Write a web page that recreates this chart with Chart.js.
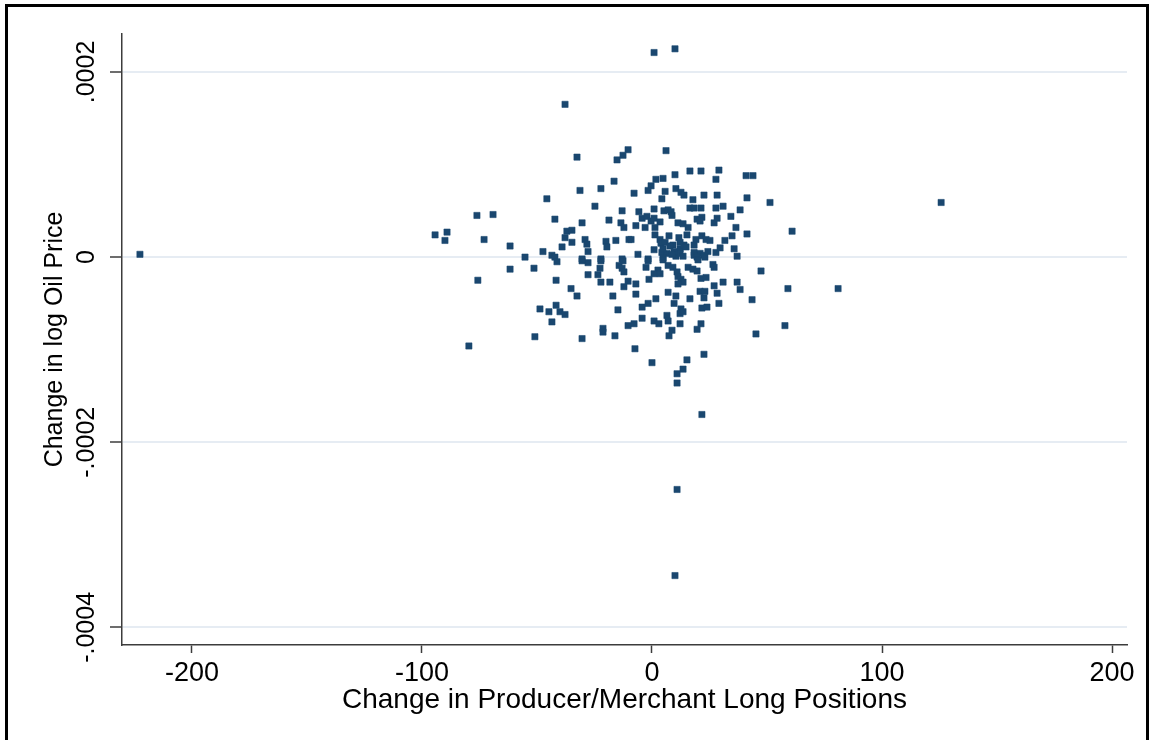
<!DOCTYPE html>
<html>
<head>
<meta charset="utf-8">
<script src="https://cdn.jsdelivr.net/npm/chart.js@4/dist/chart.umd.min.js"></script>
<style>
  html, body { margin: 0; padding: 0; background: #fff; }
  #wrap { position: relative; width: 1151px; height: 740px; overflow: hidden; }
  #frame { position: absolute; left: 5px; top: 4px; width: 1138px; height: 760px;
           border: 3px solid #000; pointer-events: none; }
</style>
</head>
<body>
<div id="wrap">
  <canvas id="scatterChart" width="1151" height="740"></canvas>
  <div id="frame"></div>
</div>
<script>
// weekly changes
const longChange = [
  -222.6, 0.9, 10.0, -37.8, 125.7, 60.9, 80.9, -79.6, 10.0, 10.9, 21.7,
  // left side
  -32.6, -31.3, -45.7, -24.8, -76.1, -69.1, -42.2, -30.4, -94.3, -89.1,
  -90.0, -73.0, -61.7, -37.0, -34.8, -37.8, -34.8, -29.1, -28.3, -27.8,
  -39.1, -47.4, -43.5, -42.2, -55.2, -41.3, -30.4, -27.8, -61.7, -51.3,
  -75.7, -41.7, -27.8, -23.5, -35.2, -32.6, -41.7, -48.7, -44.8, -40.0,
  -37.8, -43.5, -50.9, -30.4, -30.4,
  // centre, above zero
  -15.2, -16.5, -22.2, 1.7, 4.8, -0.4, -1.7, 5.7, -7.8, 4.3,
  -13.0, -5.7, -4.3, -2.2, 0.9, 5.2, 7.0, -18.7, -13.5, -12.2,
  -0.4, 0.9, 3.5, 1.3, -3.0, -7.0, -20.0, -19.6, -15.7, -10.0,
  1.3, 3.5, 3.9, 5.7, -6.1, 0.9, 4.3, 6.5, -22.2, -13.0,
  -1.7, 4.8, -10.4, -12.6, 6.1, 10.0, 16.5, 21.3, 29.1, 27.8,
  40.9, 43.9, 10.4, 12.6, 13.9, 22.6, 28.3, 41.3, 51.3, 17.8,
  30.9, 16.5, 18.3, 21.3, 27.8, 38.3, 8.3, 8.7, 11.3, 13.5,
  15.7, 19.6, 21.7, 20.9, 27.0, 28.3, 34.3, 36.5, 41.3, -9.1,
  7.4, 11.7, 12.2, 15.2, 19.1, 21.7, 23.5, 25.2, 31.7, 34.8,
  9.1, 12.2, 13.9, 18.3, 18.3, 20.9, 22.6, 24.3, 27.8, 29.6,
  35.7, 37.0, 10.4, 12.2, 18.3, 4.8, 7.8, 14.8, 9.6, 8.7,
  13.5, 23.0,
  // centre, below zero
  -22.2, -22.6, -14.3, -13.0, -12.2, -12.6, -1.7, -2.6, 2.6, 0.9,
  3.5, -1.3, 4.8, 7.0, -18.3, -22.2, -10.4, -12.2, -7.0, -17.0,
  -7.0, 1.7, -1.7, -4.3, 7.0, -14.8, -4.3, 0.9, 3.0, -10.4,
  -7.8, 6.5, 7.0, -21.3, -21.3, -16.1, -7.4, 7.4, 19.6, 20.0,
  9.1, 15.7, 17.8, 19.6, 26.5, 27.0, 47.4, 10.9, 11.3, 12.6,
  13.5, 11.3, 21.3, 23.5, 27.0, 30.9, 37.0, 38.3, 10.4, 20.9,
  23.0, 28.3, 16.5, 22.6, 43.5, 9.6, 29.1, 21.7, 23.9, 12.6,
  12.2, 13.5, 12.2, 21.3, 19.6, 8.7, 45.2, 22.6, 0, 15.2,
  13.5, 10.9, 10.9, 57.8, 59.1
];

const logPriceChange = [
  0.03e-4, 2.21e-4, 2.25e-4, 1.65e-4, 0.59e-4, 0.28e-4, -0.34e-4, -0.96e-4, -3.44e-4, -2.51e-4, -1.70e-4,
  // left side
  1.08e-4, 0.72e-4, 0.63e-4, 0.55e-4, 0.45e-4, 0.46e-4, 0.41e-4, 0.37e-4, 0.24e-4, 0.27e-4,
  0.18e-4, 0.19e-4, 0.12e-4, 0.28e-4, 0.29e-4, 0.21e-4, 0.16e-4, 0.19e-4, 0.14e-4, 0.06e-4,
  0.11e-4, 0.06e-4, 0.02e-4, 0, 0, -0.05e-4, -0.04e-4, -0.06e-4, -0.13e-4, -0.12e-4,
  -0.25e-4, -0.25e-4, -0.19e-4, -0.19e-4, -0.34e-4, -0.42e-4, -0.52e-4, -0.56e-4, -0.59e-4, -0.59e-4,
  -0.62e-4, -0.70e-4, -0.86e-4, -0.88e-4, -0.02e-4,
  // centre, above zero
  1.05e-4, 0.82e-4, 0.74e-4, 0.84e-4, 0.85e-4, 0.77e-4, 0.72e-4, 0.71e-4, 0.69e-4, 0.63e-4,
  0.50e-4, 0.49e-4, 0.42e-4, 0.44e-4, 0.52e-4, 0.50e-4, 0.51e-4, 0.40e-4, 0.37e-4, 0.32e-4,
  0.39e-4, 0.42e-4, 0.38e-4, 0.32e-4, 0.32e-4, 0.34e-4, 0.17e-4, 0.11e-4, 0.18e-4, 0.19e-4,
  0.24e-4, 0.19e-4, 0.15e-4, 0.16e-4, 0.03e-4, 0.08e-4, 0.05e-4, 0.04e-4, -0.02e-4, -0.02e-4,
  -0.02e-4, -0.01e-4, 1.16e-4, 1.10e-4, 1.15e-4, 0.89e-4, 0.93e-4, 0.93e-4, 0.94e-4, 0.84e-4,
  0.88e-4, 0.88e-4, 0.74e-4, 0.70e-4, 0.67e-4, 0.67e-4, 0.67e-4, 0.64e-4, 0.59e-4, 0.62e-4,
  0.55e-4, 0.53e-4, 0.53e-4, 0.53e-4, 0.53e-4, 0.51e-4, 0.49e-4, 0.45e-4, 0.37e-4, 0.36e-4,
  0.32e-4, 0.41e-4, 0.43e-4, 0.39e-4, 0.37e-4, 0.42e-4, 0.44e-4, 0.32e-4, 0.25e-4, 0.19e-4,
  0.23e-4, 0.21e-4, 0.16e-4, 0.24e-4, 0.19e-4, 0.23e-4, 0.19e-4, 0.18e-4, 0.18e-4, 0.23e-4,
  0.13e-4, 0.09e-4, 0.13e-4, 0.13e-4, 0.05e-4, 0.04e-4, 0.02e-4, 0.06e-4, 0.05e-4, 0.10e-4,
  0.09e-4, 0.01e-4, 0.01e-4, 0.04e-4, 0.02e-4, 0.09e-4, 0.12e-4, 0.11e-4, 0.06e-4, 0.03e-4,
  0.01e-4, 0,
  // centre, below zero
  -0.04e-4, -0.12e-4, -0.09e-4, -0.12e-4, -0.16e-4, -0.04e-4, -0.04e-4, -0.11e-4, -0.14e-4, -0.18e-4,
  -0.18e-4, -0.24e-4, -0.03e-4, -0.09e-4, -0.27e-4, -0.27e-4, -0.26e-4, -0.32e-4, -0.29e-4, -0.42e-4,
  -0.40e-4, -0.45e-4, -0.50e-4, -0.54e-4, -0.38e-4, -0.57e-4, -0.66e-4, -0.69e-4, -0.72e-4, -0.74e-4,
  -0.72e-4, -0.63e-4, -0.69e-4, -0.77e-4, -0.81e-4, -0.85e-4, -0.99e-4, -0.85e-4, 0, -0.03e-4,
  -0.11e-4, -0.11e-4, -0.13e-4, -0.15e-4, -0.08e-4, -0.11e-4, -0.15e-4, -0.16e-4, -0.21e-4, -0.24e-4,
  -0.27e-4, -0.29e-4, -0.23e-4, -0.22e-4, -0.31e-4, -0.27e-4, -0.27e-4, -0.35e-4, -0.42e-4, -0.37e-4,
  -0.37e-4, -0.39e-4, -0.45e-4, -0.44e-4, -0.46e-4, -0.50e-4, -0.50e-4, -0.55e-4, -0.54e-4, -0.56e-4,
  -0.61e-4, -0.59e-4, -0.72e-4, -0.72e-4, -0.78e-4, -0.79e-4, -0.83e-4, -1.05e-4, -1.14e-4, -1.11e-4,
  -1.21e-4, -1.26e-4, -1.36e-4, -0.74e-4, -0.34e-4
];

const xTicks = [-200, -100, 0, 100, 200];
const yTicks = [-0.0004, -0.0002, 0, 0.0002];
const yTickText = ['-.0004', '-.0002', '0', '.0002'];

const points = longChange.map((x, i) => ({ x: x, y: logPriceChange[i] }));

const FONT = '"Liberation Sans", Arial, Helvetica, sans-serif';
const axisColor = '#3c3c3c';

// y tick labels in Stata are turned on their side
const yTickLabels = {
  id: 'yTickLabels',
  afterDraw(chart) {
    const ctx = chart.ctx;
    const yScale = chart.scales.y;
    ctx.save();
    ctx.font = '25px ' + FONT;
    ctx.fillStyle = '#000';
    ctx.textAlign = 'center';
    ctx.textBaseline = 'middle';
    yScale.ticks.forEach((t, i) => {
      const py = yScale.getPixelForValue(t.value);
      ctx.save();
      ctx.translate(87, py);
      ctx.rotate(-Math.PI / 2);
      ctx.fillText(yTickText[i], 0, 0);
      ctx.restore();
    });
    ctx.restore();
  }
};

const ctx = document.getElementById('scatterChart').getContext('2d');
const scatterChart = new Chart(ctx, {
  type: 'scatter',
  data: {
    datasets: [{
      label: 'weeks',
      data: points,
      pointStyle: 'rect',
      pointRadius: 4.4,
      pointHoverRadius: 4.4,
      backgroundColor: '#1a476f',
      borderColor: 'rgba(26, 71, 111, 0.55)',
      borderWidth: 1
    }]
  },
  options: {
    responsive: false,
    animation: false,
    layout: { padding: { left: 0, top: 34, right: 24, bottom: 0 } },
    plugins: {
      legend: { display: false },
      tooltip: { enabled: false }
    },
    scales: {
      x: {
        type: 'linear',
        min: -230.4,
        max: 206.5,
        afterBuildTicks: (s) => { s.ticks = xTicks.map(v => ({ value: v })); },
        afterFit: (s) => { s.height = 95; },
        border: { display: true, color: axisColor, width: 1.5 },
        grid: { drawOnChartArea: false, drawTicks: true, tickLength: 8, tickColor: axisColor, tickWidth: 1.5 },
        ticks: {
          color: '#000',
          font: { family: FONT, size: 27 },
          padding: 4,
          maxRotation: 0,
          callback: (v) => String(v)
        },
        title: {
          display: true,
          text: 'Change in Producer/Merchant Long Positions',
          color: '#000',
          font: { family: FONT, size: 28 },
          padding: { top: 0, bottom: 23 }
        }
      },
      y: {
        type: 'linear',
        min: -0.000419,
        max: 0.000241,
        afterBuildTicks: (s) => { s.ticks = yTicks.map(v => ({ value: v })); },
        afterFit: (s) => { s.width = 122; },
        border: { display: true, color: axisColor, width: 1.5 },
        grid: { color: '#e6ecf3', lineWidth: 2, drawTicks: true, tickLength: 12, tickColor: axisColor, tickWidth: 1.5 },
        ticks: { display: false },
        title: {
          display: true,
          text: 'Change in log Oil Price',
          color: '#000',
          font: { family: FONT, size: 25 },
          padding: { top: 40, bottom: 0 }
        }
      }
    }
  },
  plugins: [yTickLabels]
});
</script>
</body>
</html>
